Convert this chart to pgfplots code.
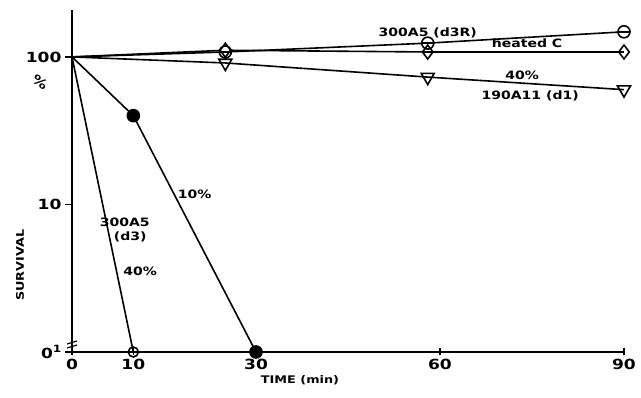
\documentclass[border=0pt]{standalone}
\usepackage{fontspec}
\setmainfont{DejaVu Sans}[FakeStretch=1.22]
\usepackage{pgfplots}
\pgfplotsset{compat=1.18}
\pgfdeclareplotmark{ominus}{%
  \pgfpathcircle{\pgfpoint{0pt}{0pt}}{\pgfplotmarksize}%
  \pgfusepathqfillstroke
  \pgfpathmoveto{\pgfpoint{-\pgfplotmarksize}{0pt}}%
  \pgfpathlineto{\pgfpoint{\pgfplotmarksize}{0pt}}%
  \pgfusepathqstroke}
\newcommand{\tl}{\fontsize{14}{16}\selectfont\bfseries}
\newcommand{\lb}{\fontsize{11.5}{13}\selectfont\bfseries}
\begin{document}
\begin{tikzpicture}
\path[use as bounding box] (-72pt,-46pt) rectangle (569pt,352pt);
\begin{axis}[
  at={(0,0)}, anchor=south west, scale only axis,
  width=552pt, height=342pt,
  xmin=0, xmax=90, ymode=log, log basis y=10, ymin=1, ymax=208,
  axis x line*=bottom, axis y line*=left,
  axis line style={line width=1.6pt, black},
  xtick={0,10,30,60,90},
  ytick={1,10,100},
  yticklabels={{0\raisebox{0.9ex}{\fontsize{10}{10}\selectfont\bfseries 1}},10,100},
  minor ytick={}, yminorticks=false,
  tick style={line width=1.4pt, black},
  major tick length=7pt,
  xtick align=center, ytick align=outside,
  /pgf/number format/assume math mode=true,
  ticklabel style={font=\tl},
  clip=false,
  xlabel={TIME (min)},
  xlabel style={font=\fontsize{10.5}{12}\selectfont\bfseries, at={(axis description cs:0.413,0)}, anchor=north, yshift=-20pt},
  ylabel={SURVIVAL},
  ylabel style={font=\fontsize{10.5}{12}\selectfont\bfseries, at={(axis description cs:-0.094,0.254)}, anchor=center},
]
% 300A5 (d3) 40%
\addplot[black, line width=1.6pt, mark=o, mark size=5pt, mark options={fill=white, line width=1.6pt}, mark indices={2}] coordinates {(0,100) (10,1)};
% 10%
\addplot[black, line width=1.6pt, mark=*, mark size=6pt, mark indices={2,3}] coordinates {(0,100) (10,40) (30,1)};
% 300A5 (d3R)
\addplot[black, line width=1.6pt, mark=ominus, mark size=6pt, mark options={fill=white, line width=1.6pt}, mark indices={2,3,4}] coordinates {(0,100) (25,108) (58,124) (90,148)};
% heated C
\addplot[black, line width=1.6pt, mark=diamond, mark size=7pt, mark options={fill=white, line width=1.6pt}, mark indices={2,3,4}] coordinates {(0,100) (25,111) (58,108) (90,108)};
% 190A11 (d1) 40%
\addplot[black, line width=1.6pt, mark=triangle, mark size=7.5pt, mark options={fill=white, rotate=180, line width=1.6pt}, mark indices={2,3,4}] coordinates {(0,100) (25,91) (58,73) (90,60)};

\node[font=\lb] at (axis cs:58,145) {300A5 (d3R)};
\node[font=\lb] at (axis cs:74.2,124) {heated C};
\node[font=\lb] at (axis cs:73.4,75.5) {40\%};
\node[font=\lb] at (axis cs:74.7,54.4) {190A11 (d1)};
\node[font=\lb] at (axis cs:20,11.8) {10\%};
\node[font=\lb] at (axis cs:8.6,7.6) {300A5};
\node[font=\lb] at (axis cs:9.5,6.0) {(d3)};
\node[font=\lb] at (axis cs:11.1,3.54) {40\%};
\node[font=\fontsize{13}{14}\selectfont\bfseries, rotate=-35] at (axis description cs:-0.058,0.789) {\%};
\end{axis}
\draw[line width=1.2pt] (-5pt,4pt) -- (5pt,7pt);
\draw[line width=1.2pt] (-5pt,8pt) -- (5pt,11pt);
\end{tikzpicture}
\end{document}
